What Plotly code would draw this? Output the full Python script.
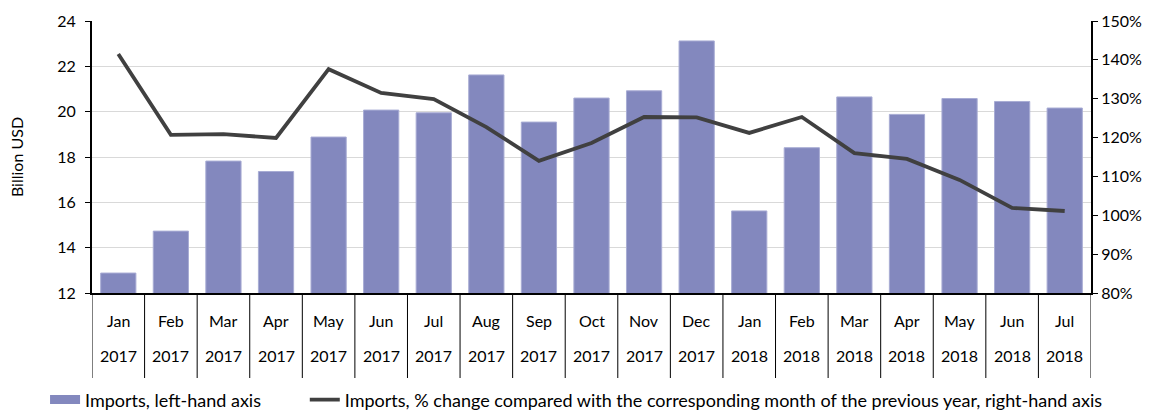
import plotly.graph_objects as go

months = ["Jan", "Feb", "Mar", "Apr", "May", "Jun", "Jul", "Aug", "Sep", "Oct",
          "Nov", "Dec", "Jan", "Feb", "Mar", "Apr", "May", "Jun", "Jul"]
years = ["2017"] * 12 + ["2018"] * 7
imports_bn = [12.88, 14.73, 17.82, 17.36, 18.88, 20.07, 19.95, 21.62, 19.54, 20.6,
              20.92, 23.12, 15.62, 18.41, 20.65, 19.88, 20.58, 20.45, 20.16]
change_pct = [141.5, 120.7, 120.9, 119.9, 137.6, 131.5, 129.9, 122.7, 114.0, 118.6,
              125.3, 125.2, 121.2, 125.3, 116.0, 114.5, 109.1, 101.9, 101.1]
left_ticks = [12, 14, 16, 18, 20, 22, 24]
right_ticks = [80, 90, 100, 110, 120, 130, 140, 150]

FONT = "Lato"
BAR_COLOR = "#8388BE"
idx = list(range(len(months)))

fig = go.Figure()
fig.add_trace(go.Bar(
    x=idx, y=imports_bn, name="Imports, left-hand axis",
    marker=dict(color=BAR_COLOR, line=dict(color="#A8ACD4", width=1)),
    yaxis="y", showlegend=False, legendgroup="bars",
))
# legend proxy giving the bar series a wide rectangular swatch
fig.add_trace(go.Scatter(
    x=[None], y=[None], mode="lines", name="Imports, left-hand axis",
    line=dict(color=BAR_COLOR, width=9), legend="legend", legendgroup="bars",
    hoverinfo="skip",
))
fig.add_trace(go.Scatter(
    x=idx, y=change_pct, mode="lines",
    name="Imports, % change compared with the corresponding month of the previous year, right-hand axis",
    line=dict(color="#404040", width=3.8),
    yaxis="y2", legend="legend2",
))

annotations = []
for i, (m, yv) in enumerate(zip(months, years)):
    annotations.append(dict(x=i, y=0, xref="x", yref="paper", text=m, showarrow=False,
                            yanchor="middle", yshift=-27, font=dict(size=16, color="#000")))
    annotations.append(dict(x=i, y=0, xref="x", yref="paper", text=yv, showarrow=False,
                            yanchor="middle", yshift=-62, font=dict(size=16, color="#000")))

shapes = []
for i in range(len(months) + 1):
    shapes.append(dict(type="line", xref="x", yref="paper", x0=i - 0.5, x1=i - 0.5,
                       y0=0, y1=-85 / 272, line=dict(color="#000", width=1)))

legend_common = dict(orientation="h", y=-0.393, yanchor="middle", font=dict(size=18),
                     itemwidth=30, bgcolor="rgba(0,0,0,0)")

fig.update_layout(
    width=1155, height=410,
    margin=dict(l=92, r=64, t=21, b=117, autoexpand=False),
    paper_bgcolor="white", plot_bgcolor="white",
    font=dict(family=FONT, size=16, color="#000"),
    bargap=0.33,
    showlegend=True,
    legend=dict(x=-0.047, xanchor="left", **legend_common),
    legend2=dict(x=0.213, xanchor="left", **legend_common),
    xaxis=dict(range=[-0.5, len(months) - 0.5], showticklabels=False, showgrid=False,
               zeroline=False, showline=True, linecolor="#000", linewidth=2,
               ticks="", fixedrange=True, automargin=False),
    yaxis=dict(range=[12, 24], tickvals=left_ticks, showgrid=True, gridcolor="#D9D9D9",
               gridwidth=1, zeroline=False, showline=True, linecolor="#000", linewidth=2,
               ticks="outside", ticklen=5, tickcolor="#000", automargin=False,
               ticklabelstandoff=6,
               title=dict(text="Billion USD", font=dict(size=16), standoff=30)),
    yaxis2=dict(range=[80, 150], tickvals=right_ticks,
                ticktext=[f"{v}%" for v in right_ticks], overlaying="y", side="right",
                showgrid=False, zeroline=False, showline=True, linecolor="#000", linewidth=2,
                ticks="outside", ticklen=5, tickcolor="#000", automargin=False),
    annotations=annotations,
    shapes=shapes,
)

fig.write_html("out.html", config={"displayModeBar": False},
               post_script="document.body.style.margin='0';document.body.style.overflow='hidden';")
